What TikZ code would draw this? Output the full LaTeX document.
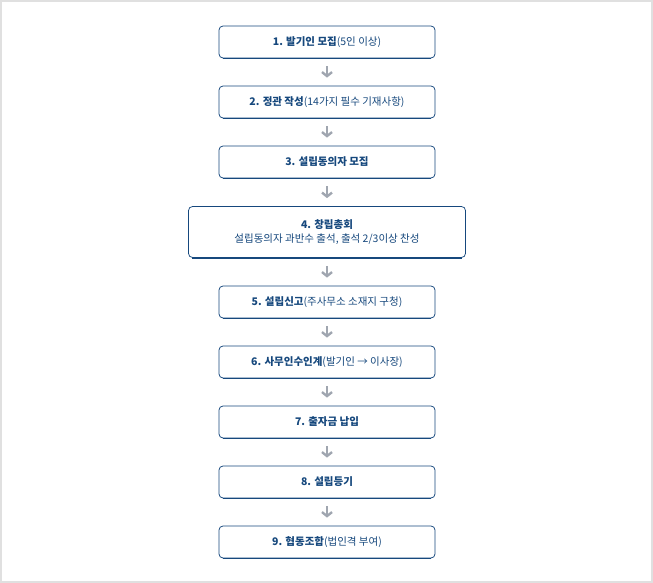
\documentclass[tikz,border=0pt]{standalone}
\usepackage{fontspec}
\setmainfont{Noto Sans CJK KR}
\usetikzlibrary{positioning,arrows.meta}
\definecolor{stepblue}{RGB}{22,72,125}
\definecolor{flowgray}{RGB}{160,166,176}
\tikzset{every picture/.style={line width=0.75pt}}
\tikzset{stepbox/.style={draw=stepblue,rounded corners=4pt,fill=white,minimum width=216pt,minimum height=32pt,inner sep=2pt,font=\fontsize{10.5}{14}\selectfont,text=stepblue,align=center},
  flow/.style={draw=flowgray,line width=2.6pt,-{Straight Barb[length=4pt,width=10pt,line width=2.4pt]}}}
\newcommand{\hd}[1]{\textbf{#1}}
\begin{document}
\begin{tikzpicture}[x=1pt,y=1pt,yscale=-1]
\useasboundingbox (0,0) rectangle (653,583);
\draw[draw=black!12,line width=1.5pt] (1,1) rectangle (652,582);

% Steps
\node[stepbox] (s1) at (327,42) {\hd{1. 발기인 모집}(5인 이상)};
\node[stepbox] (s2) at (327,102) {\hd{2. 정관 작성}(14가지 필수 기재사항)};
\node[stepbox] (s3) at (327,162) {\hd{3. 설립동의자 모집}};
\node[stepbox,minimum width=277pt,minimum height=51pt] (s4) at (327,232) {\hd{4. 창립총회}\\설립동의자 과반수 출석, 출석 2/3이상 찬성};
\node[stepbox] (s5) at (327,302) {\hd{5. 설립신고}(주사무소 소재지 구청)};
\node[stepbox] (s6) at (327,362) {\hd{6. 사무인수인계}(발기인 → 이사장)};
\node[stepbox] (s7) at (327,422) {\hd{7. 출자금 납입}};
\node[stepbox] (s8) at (327,482) {\hd{8. 설립등기}};
\node[stepbox] (s9) at (327,542) {\hd{9. 협동조합}(법인격 부여)};

% shadow under each box
\foreach \s in {s1,s2,s3,s4,s5,s6,s7,s8,s9}
  \draw[stepblue,line width=1.2pt] ([xshift=4pt,yshift=0.5pt]\s.south west) -- ([xshift=-4pt,yshift=0.5pt]\s.south east);

% Arrows
\foreach \a/\b in {s1/s2,s2/s3,s3/s4,s4/s5,s5/s6,s6/s7,s7/s8,s8/s9}
  \draw[flow] ([yshift=8pt]\a.south) -- ([yshift=-8pt]\b.north);
\end{tikzpicture}
\end{document}
